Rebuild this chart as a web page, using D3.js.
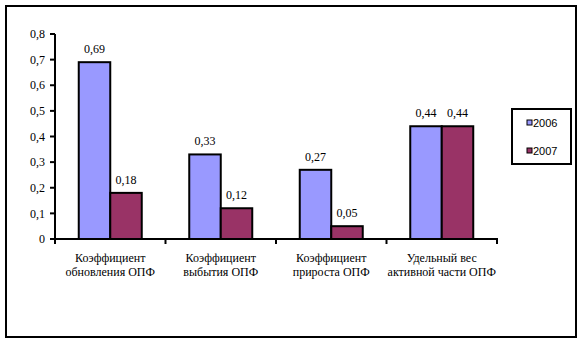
<!DOCTYPE html>
<html>
<head>
<meta charset="UTF-8">
<title>Коэффициенты ОПФ</title>
<script src="https://d3js.org/d3.v7.min.js"></script>
<style>
  body { margin: 0; padding: 0; background: #fff; }
  svg { display: block; }
</style>
</head>
<body>
<svg width="580" height="341"></svg>
<script>
// данные
const categories = [
  ["Коэффициент", "обновления ОПФ"],
  ["Коэффициент", "выбытия ОПФ"],
  ["Коэффициент", "прироста ОПФ"],
  ["Удельный вес", "активной части ОПФ"]
];
const years = ["2006", "2007"];
const values2006 = [0.69, 0.33, 0.27, 0.44];
const values2007 = [0.18, 0.12, 0.05, 0.44];
const yTicks = [0, 0.1, 0.2, 0.3, 0.4, 0.5, 0.6, 0.7, 0.8];
const colors = ["#9999ff", "#993366"];

const serif = '"Liberation Serif", "Times New Roman", serif';
const sans = '"Liberation Sans", Arial, sans-serif';

const svg = d3.select("svg");
const fmt = v => v === 0 ? "0" : String(v).replace(".", ",");

// внешняя рамка
svg.append("rect")
  .attr("x", 6).attr("y", 6)
  .attr("width", 570).attr("height", 331)
  .attr("fill", "none").attr("stroke", "#000").attr("stroke-width", 2);

const plotL = 55, plotR = 497, plotT = 34, plotB = 239;

const x = d3.scaleBand()
  .domain(d3.range(categories.length))
  .range([plotL, plotR])
  .paddingInner(0).paddingOuter(0);

const x1 = d3.scaleBand()
  .domain(years)
  .range([0, 63]);

const y = d3.scaleLinear().domain([0, 0.8]).range([plotB, plotT]);

function label(g) {
  return g.append("text")
    .style("font-family", serif)
    .style("font-size", "12px")
    .attr("fill", "#000");
}

// ось Y
const gy = svg.append("g");
gy.append("line")
  .attr("x1", plotL).attr("x2", plotL)
  .attr("y1", y(0)).attr("y2", y(0.8))
  .attr("stroke", "#000").attr("stroke-width", 2);
yTicks.forEach(t => {
  gy.append("line")
    .attr("x1", plotL - 5).attr("x2", plotL)
    .attr("y1", y(t)).attr("y2", y(t))
    .attr("stroke", "#000").attr("stroke-width", 2);
  label(gy)
    .attr("x", plotL - 10).attr("y", y(t))
    .attr("dy", "0.35em")
    .attr("text-anchor", "end")
    .text(fmt(t));
});

// столбцы
const series = [values2006, values2007];
categories.forEach((c, i) => {
  const g = svg.append("g")
    .attr("transform", `translate(${x(i) + (x.bandwidth() - 63) / 2},0)`);
  years.forEach((yr, k) => {
    const v = series[k][i];
    g.append("rect")
      .attr("x", x1(yr))
      .attr("y", y(v))
      .attr("width", x1.bandwidth())
      .attr("height", y(0) - y(v))
      .attr("fill", colors[k])
      .attr("stroke", "#000").attr("stroke-width", 2);
    label(g)
      .attr("x", x1(yr) + x1.bandwidth() / 2)
      .attr("y", y(v) - 9)
      .attr("text-anchor", "middle")
      .text(fmt(v));
  });
});

// ось X
const gx = svg.append("g");
gx.append("line")
  .attr("x1", plotL - 1).attr("x2", plotR + 1)
  .attr("y1", plotB).attr("y2", plotB)
  .attr("stroke", "#000").attr("stroke-width", 2);
d3.range(categories.length + 1).forEach(i => {
  const xx = i < categories.length ? x(i) : plotR;
  gx.append("line")
    .attr("x1", xx).attr("x2", xx)
    .attr("y1", plotB).attr("y2", plotB + 5)
    .attr("stroke", "#000").attr("stroke-width", 2);
});
categories.forEach((c, i) => {
  c.forEach((line, j) => {
    label(gx)
      .attr("text-anchor", "middle")
      .attr("x", x(i) + x.bandwidth() / 2)
      .attr("y", 262 + j * 13.5)
      .text(line);
  });
});

// легенда
const lg = svg.append("g");
lg.append("rect")
  .attr("x", 512).attr("y", 109)
  .attr("width", 59).attr("height", 55)
  .attr("fill", "none").attr("stroke", "#000").attr("stroke-width", 2);
years.forEach((yr, k) => {
  const yy = 123 + k * 28;
  lg.append("rect")
    .attr("x", 527).attr("y", yy - 3)
    .attr("width", 5).attr("height", 5)
    .attr("fill", colors[k]).attr("stroke", "#000").attr("stroke-width", 1);
  lg.append("text")
    .style("font-family", sans)
    .style("font-size", "11px")
    .attr("x", 533).attr("y", yy)
    .attr("dy", "0.35em")
    .text(yr);
});
</script>
</body>
</html>
